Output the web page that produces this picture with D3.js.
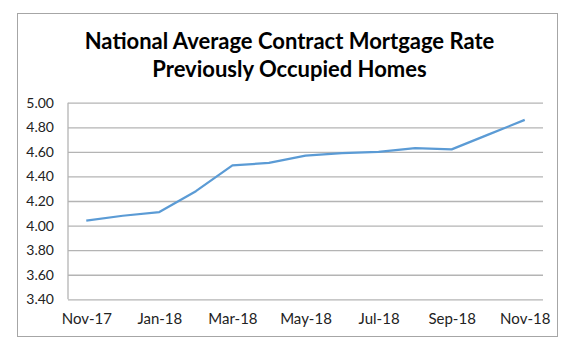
<!DOCTYPE html>
<html><head><meta charset="utf-8">
<script src="https://cdn.jsdelivr.net/npm/d3@7"></script>
<style>html,body{margin:0;padding:0;background:#fff;}svg{display:block;}</style>
</head><body>
<script>
const months = ["Nov-17","Dec-17","Jan-18","Feb-18","Mar-18","Apr-18","May-18","Jun-18","Jul-18","Aug-18","Sep-18","Oct-18","Nov-18"];
const rates = [4.04,4.08,4.11,4.28,4.49,4.51,4.57,4.59,4.60,4.63,4.62,4.74,4.86];
const yTicks = [3.40,3.60,3.80,4.00,4.20,4.40,4.60,4.80,5.00];
const xLabels = ["Nov-17","Jan-18","Mar-18","May-18","Jul-18","Sep-18","Nov-18"];
const titleLines = ["National Average Contract Mortgage Rate","Previously Occupied Homes"];

(function(){
const W = 575, H = 354;
const svg = d3.select("body").append("svg").attr("width", W).attr("height", H);
svg.append("rect").attr("x",0).attr("y",0).attr("width",W).attr("height",H).attr("fill","#fff");
svg.append("rect").attr("x",17.5).attr("y",13.5).attr("width",540).attr("height",323)
  .attr("fill","#fff").attr("stroke","#a6a6a6").attr("stroke-width",1);

const pL = 68, pR = 543, pT = 102.7, pB = 299.3;
const x = d3.scalePoint().domain(months).range([pL, pR]).padding(0.5);
const y = d3.scaleLinear().domain([3.4, 5.0]).range([pB, pT]);

const yAxis = d3.axisLeft(y).tickValues(yTicks).tickFormat(d3.format(".2f"))
  .tickSize(-(pR-pL)).tickPadding(14);
const gy = svg.append("g").attr("transform", `translate(${pL},0)`).call(yAxis);
gy.select(".domain").remove();
gy.selectAll(".tick line").attr("stroke","#b4b4b4").attr("stroke-width",1.3);
gy.selectAll(".tick text").attr("fill","#222").attr("font-family","Lato, 'Liberation Sans', sans-serif")
  .attr("font-size","14px");
svg.append("line").attr("x1",pL).attr("x2",pL).attr("y1",pT).attr("y2",pB)
  .attr("stroke","#b4b4b4").attr("stroke-width",1.3);

const xAxis = d3.axisBottom(x).tickValues(xLabels).tickSize(0).tickPadding(14);
const gx = svg.append("g").attr("transform", `translate(0,${pB})`).call(xAxis);
gx.select(".domain").remove();
gx.selectAll(".tick text").attr("fill","#222").attr("font-family","Lato, 'Liberation Sans', sans-serif")
  .attr("font-size","15px");

const line = d3.line().x((d,i)=>x(months[i])).y(d=>y(d));
svg.append("path").datum(rates).attr("d", line).attr("fill","none")
  .attr("stroke","#5b9bd5").attr("stroke-width",2.25).attr("stroke-linejoin","round");

const t = svg.append("text").attr("text-anchor","middle").attr("font-family","Lato, 'Liberation Sans', sans-serif")
  .attr("font-weight","bold").attr("font-size","22px").attr("fill","#000");
t.selectAll("tspan").data(titleLines).enter().append("tspan")
  .attr("x", 289.5).attr("y",(d,i)=> i===0 ? 49 : 77).text(d=>d);
})();
</script>
</body></html>
